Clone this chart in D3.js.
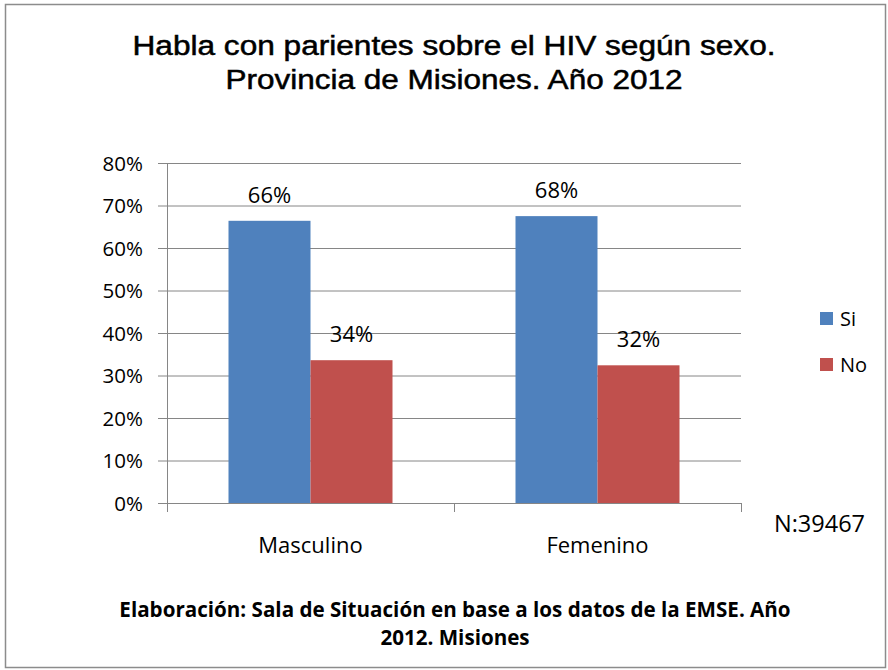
<!DOCTYPE html>
<meta charset="utf-8">
<head>
  <title>Habla con parientes sobre el HIV</title>
</head>
<style>
body { margin: 0; background: #fff; }
svg { display: block; }
</style>
<body>
<script src="https://d3js.org/d3.v7.min.js"></script>
<script>

// data
var categories = ["Masculino", "Femenino"];
var series = ["Si", "No"];
var siValues = [66.4, 67.5];
var noValues = [33.6, 32.4];
var valueLabels = [["66%", "34%"], ["68%", "32%"]];
var yTicks = [0, 10, 20, 30, 40, 50, 60, 70, 80];
var colors = ["#4F81BD", "#C0504D"];

var w = 888, h = 670;
var plot = {left: 167, right: 741, top: 163, bottom: 503};
var labelFont = "'Open Sans', 'Noto Sans', sans-serif";
var titleFont = "'Liberation Sans', Arial, sans-serif";

var svg = d3.select("body").append("svg")
  .attr("width", w)
  .attr("height", h);

svg.append("rect")
  .attr("x", 5.5).attr("y", 4.5)
  .attr("width", w - 8).attr("height", h - 7)
  .attr("fill", "white")
  .attr("stroke", "#8c8c8c")
  .attr("stroke-width", 1.5);

// title (two lines, slightly stretched like the original)
var titleLines = [
  {t: "Habla con parientes sobre el HIV según sexo.", y: 55, len: 643},
  {t: "Provincia de Misiones. Año 2012", y: 89, len: 457}
];
svg.selectAll(".title").data(titleLines).enter().append("text")
  .attr("x", 454).attr("y", function(d) { return d.y; })
  .attr("text-anchor", "middle")
  .attr("font-family", titleFont)
  .attr("font-size", 27)
  .attr("stroke", "#000")
  .attr("stroke-width", 0.5)
  .attr("textLength", function(d) { return d.len; })
  .attr("lengthAdjust", "spacingAndGlyphs")
  .attr("fill", "#000")
  .text(function(d) { return d.t; });

var y = d3.scaleLinear().domain([0, 80]).range([plot.bottom, plot.top]);
var x0 = d3.scaleBand().domain(categories).range([plot.left, plot.right]);
var x1 = d3.scaleBand().domain(series).range([0, 164]);

// gridlines + ticks
var yAxis = d3.axisLeft(y)
  .tickValues(yTicks)
  .tickSize(plot.right - plot.left + 9)
  .tickFormat(function(d) { return d + "%"; });

var gy = svg.append("g")
  .attr("transform", "translate(" + plot.right + ",0)")
  .call(yAxis);
gy.select(".domain").remove();
gy.selectAll(".tick line").attr("stroke", "#868686").attr("stroke-width", 1);
gy.selectAll(".tick text")
  .attr("x", -(plot.right - 143))
  .attr("dy", "0.35em")
  .attr("font-family", labelFont)
  .attr("font-size", 20.5)
  .attr("fill", "#000");

// y axis line
svg.append("line")
  .attr("x1", plot.left + 0.5).attr("x2", plot.left + 0.5)
  .attr("y1", plot.top).attr("y2", plot.bottom + 9)
  .attr("stroke", "#868686");

// x axis ticks
var xTickPos = [plot.left, plot.left + x0.bandwidth(), plot.right];
svg.selectAll(".xtick").data(xTickPos).enter().append("line")
  .attr("x1", function(d) { return d + 0.5; })
  .attr("x2", function(d) { return d + 0.5; })
  .attr("y1", plot.bottom).attr("y2", plot.bottom + 9)
  .attr("stroke", "#868686");

// bars
var groups = svg.selectAll(".cat").data(categories).enter().append("g")
  .attr("transform", function(d) { return "translate(" + (x0(d) + (x0.bandwidth() - 164) / 2) + ",0)"; });

groups.each(function(cat, i) {
  var vals = [siValues[i], noValues[i]];
  var g = d3.select(this);
  g.selectAll("rect").data(vals).enter().append("rect")
    .attr("x", function(d, j) { return x1(series[j]); })
    .attr("y", function(d) { return y(d); })
    .attr("width", x1.bandwidth())
    .attr("height", function(d) { return plot.bottom - y(d); })
    .attr("fill", function(d, j) { return colors[j]; });
  g.selectAll("text").data(vals).enter().append("text")
    .attr("x", function(d, j) { return x1(series[j]) + x1.bandwidth() / 2; })
    .attr("y", function(d) { return y(d) - 18; })
    .attr("text-anchor", "middle")
    .attr("font-family", labelFont)
    .attr("font-size", 22)
    .attr("fill", "#000")
    .text(function(d, j) { return valueLabels[i][j]; });
});

// category labels
svg.selectAll(".catlabel").data(categories).enter().append("text")
  .attr("x", function(d) { return x0(d) + x0.bandwidth() / 2; })
  .attr("y", 553)
  .attr("text-anchor", "middle")
  .attr("font-family", labelFont)
  .attr("font-size", 22)
  .attr("fill", "#000")
  .text(function(d) { return d; });

// legend
var legend = svg.selectAll(".legend").data(series).enter().append("g")
  .attr("transform", function(d, i) { return "translate(820," + (312 + i * 46) + ")"; });
legend.append("rect")
  .attr("width", 13).attr("height", 13)
  .attr("fill", function(d, i) { return colors[i]; });
legend.append("text")
  .attr("x", 20).attr("y", 14)
  .attr("font-family", labelFont)
  .attr("font-size", 20)
  .attr("fill", "#000")
  .text(function(d) { return d; });

// N
svg.append("text")
  .attr("x", 774).attr("y", 532)
  .attr("font-family", labelFont)
  .attr("font-size", 23.5)
  .attr("fill", "#000")
  .text("N:39467");

// source
svg.append("text")
  .attr("x", 455).attr("y", 617)
  .attr("text-anchor", "middle")
  .attr("font-family", labelFont)
  .attr("font-size", 20.6)
  .attr("font-weight", "bold")
  .attr("fill", "#000")
  .text("Elaboración: Sala de Situación en base a los datos de la EMSE. Año");
svg.append("text")
  .attr("x", 455).attr("y", 645)
  .attr("text-anchor", "middle")
  .attr("font-family", labelFont)
  .attr("font-size", 20.6)
  .attr("font-weight", "bold")
  .attr("fill", "#000")
  .text("2012. Misiones");

</script>
</body>
</html>
